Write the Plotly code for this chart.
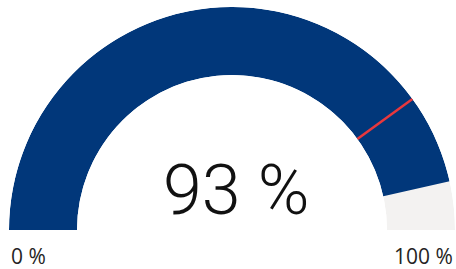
import plotly.graph_objects as go

# data
gauge_min = 0
gauge_max = 100
value = 93
threshold = 80
unit = "%"
min_label = f"{gauge_min} {unit}"
max_label = f"{gauge_max} {unit}"
value_label = f"{value} {unit}"

NAVY = "#01377A"
TRACK = "#F3F2F1"
RED = "#E8383D"
TEXT = "#252423"

def to_deg(v):
    return (v - gauge_min) / (gauge_max - gauge_min) * 180.0

fig = go.Figure()
# background track
fig.add_trace(go.Barpolar(
    r=[1], base=[0], theta=[to_deg(gauge_max) / 2], width=[to_deg(gauge_max)],
    marker=dict(color=TRACK, line=dict(width=0)), hoverinfo="skip"))
# value bar
fig.add_trace(go.Barpolar(
    r=[1], base=[0], theta=[to_deg(value) / 2], width=[to_deg(value)],
    marker=dict(color=NAVY, line=dict(width=0)), hoverinfo="skip"))
# threshold line
fig.add_trace(go.Scatterpolar(
    r=[0, 1], theta=[to_deg(threshold), to_deg(threshold)], mode="lines",
    line=dict(color=RED, width=2.5), hoverinfo="skip"))

fig.update_layout(
    width=456, height=269,
    margin=dict(l=9, r=1, t=7, b=39),
    paper_bgcolor="white",
    showlegend=False,
    polar=dict(
        domain=dict(x=[0, 1], y=[0, 1]),
        bgcolor="white",
        sector=[0, 180],
        hole=0.695,
        barmode="overlay",
        radialaxis=dict(range=[0, 1], visible=False, showgrid=False),
        angularaxis=dict(visible=False, rotation=180, direction="clockwise",
                         showgrid=False),
    ),
    annotations=[
        dict(text=value_label, x=0.508, y=0.178, xref="paper", yref="paper",
             xanchor="center", yanchor="middle", showarrow=False,
             font=dict(family="Roboto", size=70, color="#111111", weight=300)),
        dict(text=min_label, x=0.0, y=-0.115, xref="paper", yref="paper",
             xanchor="left", yanchor="middle", showarrow=False,
             font=dict(family="Open Sans", size=21, color=TEXT)),
        dict(text=max_label, x=1.0, y=-0.115, xref="paper", yref="paper",
             xanchor="right", yanchor="middle", showarrow=False,
             font=dict(family="Open Sans", size=21, color=TEXT)),
    ],
)

fig.write_html(
    "out.html",
    config={"displayModeBar": False},
    post_script="document.body.style.margin='0';document.body.style.overflow='hidden';",
)
